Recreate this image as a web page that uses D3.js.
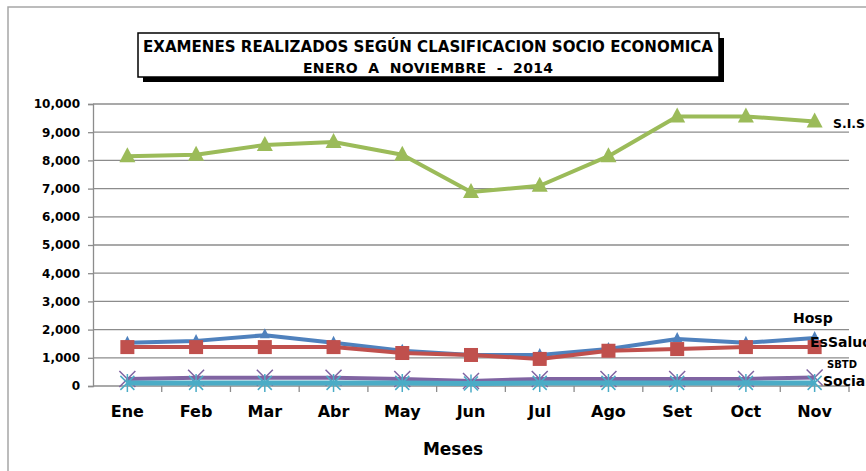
<!DOCTYPE html>
<html>
<head>
<meta charset="utf-8">
<script src="https://cdn.jsdelivr.net/npm/d3@7"></script>
<style>
  body { margin: 0; background: #fff; }
  svg { display: block; font-family: "DejaVu Sans", Verdana, sans-serif; }
</style>
</head>
<body>
<svg id="chart" width="866" height="471"></svg>
<script>
// Chart data
const months = ['Ene', 'Feb', 'Mar', 'Abr', 'May', 'Jun', 'Jul', 'Ago', 'Set', 'Oct', 'Nov'];
const yTicks = [0, 1000, 2000, 3000, 4000, 5000, 6000, 7000, 8000, 9000, 10000];

const hosp     = [1530, 1600, 1800, 1530, 1250, 1100, 1100, 1310, 1670, 1530, 1700];
const esSalud  = [1380, 1380, 1380, 1380, 1170, 1100, 960, 1250, 1310, 1380, 1380];
const sis      = [8150, 8200, 8550, 8650, 8200, 6880, 7100, 8150, 9560, 9560, 9380];
const sbtd     = [250, 290, 290, 290, 250, 180, 250, 250, 250, 250, 300];
const sociales = [110, 110, 110, 110, 110, 90, 110, 110, 110, 110, 110];

// Series in Excel draw order (later ones on top)
const series = [
  { name: 'Hosp',     values: hosp,     color: '#4F81BD', marker: 'smallTri' },
  { name: 'EsSalud',  values: esSalud,  color: '#C0504D', marker: 'square' },
  { name: 'S.I.S',    values: sis,      color: '#9BBB59', marker: 'triangle' },
  { name: 'SBTD',     values: sbtd,     color: '#8064A2', marker: 'x' },
  { name: 'Sociales', values: sociales, color: '#4BACC6', marker: 'star' }
];

const svg = d3.select('#chart');

// Outer chart border (only left/top visible in the picture)
svg.append('rect')
  .attr('x', 8).attr('y', 7)
  .attr('width', 900).attr('height', 500)
  .attr('fill', 'none')
  .attr('stroke', '#a6a6a6')
  .attr('stroke-width', 1.5);

const plot = { left: 93, right: 849, top: 104, bottom: 386 };

const x = d3.scaleBand().domain(months).range([plot.left, plot.right]);
const y = d3.scaleLinear().domain([0, 10000]).range([plot.bottom, plot.top]);

// Horizontal gridlines
svg.append('g')
  .selectAll('line')
  .data(yTicks.slice(1))
  .join('line')
  .attr('x1', plot.left).attr('x2', plot.right)
  .attr('y1', d => y(d)).attr('y2', d => y(d))
  .attr('stroke', '#8c8c8c')
  .attr('stroke-width', 1.3);

// Y axis
const yAxis = svg.append('g')
  .attr('transform', `translate(${plot.left},0)`)
  .call(d3.axisLeft(y).tickValues(yTicks).tickSize(5).tickPadding(8)
          .tickFormat(d3.format(',')));
yAxis.selectAll('path, line').attr('stroke', '#8c8c8c').attr('stroke-width', 1.3);
yAxis.selectAll('text')
  .attr('font-size', 12).attr('font-weight', 'bold').attr('fill', '#000')
  .attr('font-family', '"DejaVu Sans", Verdana, sans-serif');

// X axis: ticks sit on category boundaries
const xAxis = svg.append('g')
  .attr('transform', `translate(0,${plot.bottom})`);
xAxis.append('line')
  .attr('x1', plot.left).attr('x2', plot.right)
  .attr('stroke', '#8c8c8c').attr('stroke-width', 1.3);
xAxis.selectAll('.tick')
  .data(months)
  .join('line')
  .attr('x1', d => x(d) + x.bandwidth())
  .attr('x2', d => x(d) + x.bandwidth())
  .attr('y1', 0).attr('y2', 6)
  .attr('stroke', '#8c8c8c').attr('stroke-width', 1.3);
xAxis.selectAll('text')
  .data(months)
  .join('text')
  .attr('x', d => x(d) + x.bandwidth() / 2)
  .attr('y', 31)
  .attr('text-anchor', 'middle')
  .attr('font-size', 16).attr('font-weight', 'bold')
  .text(d => d);

// Axis title
svg.append('text')
  .attr('x', 453).attr('y', 455)
  .attr('text-anchor', 'middle')
  .attr('font-size', 17).attr('font-weight', 'bold')
  .text('Meses');

// Lines and markers
const line = d3.line()
  .x((d, i) => x(months[i]) + x.bandwidth() / 2)
  .y(d => y(d));

function drawMarker(g, type, color) {
  if (type === 'triangle') {
    g.append('path').attr('d', 'M0,-9 L8,6 L-8,6 Z').attr('fill', color);
  } else if (type === 'smallTri') {
    g.append('path').attr('d', 'M0,-7 L5,3 L-5,3 Z').attr('fill', color);
  } else if (type === 'square') {
    g.append('rect').attr('x', -7).attr('y', -7).attr('width', 14).attr('height', 14)
      .attr('fill', color);
  } else if (type === 'x') {
    g.append('path').attr('d', 'M-8,-8 L8,8 M-8,8 L8,-8')
      .attr('stroke', color).attr('stroke-width', 1.5);
  } else if (type === 'star') {
    g.append('path').attr('d', 'M-7,-7 L7,7 M-7,7 L7,-7 M0,-9 L0,9')
      .attr('stroke', color).attr('stroke-width', 1.5);
  }
}

series.forEach(s => {
  const g = svg.append('g');
  g.append('path')
    .attr('d', line(s.values))
    .attr('fill', 'none')
    .attr('stroke', s.color)
    .attr('stroke-width', s.name === 'Sociales' ? 5 : 4)
    .attr('stroke-linejoin', 'round');
  s.values.forEach((v, i) => {
    const m = g.append('g')
      .attr('transform', `translate(${x(months[i]) + x.bandwidth() / 2},${y(v)})`);
    drawMarker(m, s.marker, s.color);
  });
});

// Series labels at the right end (the reference clips the last two at the edge)
const labels = [
  { text: 'S.I.S',    x: 833, y: 128, size: 13 },
  { text: 'Hosp',     x: 793, y: 323, size: 14 },
  { text: 'EsSalud',  x: 810, y: 347, size: 14 },
  { text: 'SBTD',     x: 827, y: 368, size: 10 },
  { text: 'Sociales', x: 823, y: 386, size: 14 }
];
svg.append('g')
  .selectAll('text')
  .data(labels)
  .join('text')
  .attr('x', d => d.x).attr('y', d => d.y)
  .attr('font-size', d => d.size)
  .attr('font-weight', 'bold')
  .attr('textLength', d => d.text === 'S.I.S' ? 32 : null)
  .attr('lengthAdjust', 'spacingAndGlyphs')
  .text(d => d.text);

// Title box with drop shadow
svg.append('rect')
  .attr('x', 143).attr('y', 38).attr('width', 581).attr('height', 44)
  .attr('fill', '#000');
svg.append('rect')
  .attr('x', 138).attr('y', 33).attr('width', 581).attr('height', 44)
  .attr('fill', '#fff').attr('stroke', '#000').attr('stroke-width', 1.5);
svg.append('text')
  .attr('x', 428).attr('y', 52)
  .attr('text-anchor', 'middle')
  .attr('font-size', 15).attr('font-weight', 'bold')
  .attr('textLength', 570).attr('lengthAdjust', 'spacingAndGlyphs')
  .text('EXAMENES REALIZADOS SEGÚN CLASIFICACION SOCIO ECONOMICA');
svg.append('text')
  .attr('x', 428).attr('y', 73)
  .attr('text-anchor', 'middle')
  .attr('font-size', 14).attr('font-weight', 'bold')
  .attr('textLength', 250).attr('lengthAdjust', 'spacing')
  .style('white-space', 'pre')
  .text('ENERO  A  NOVIEMBRE  -  2014');
</script>
</body>
</html>
